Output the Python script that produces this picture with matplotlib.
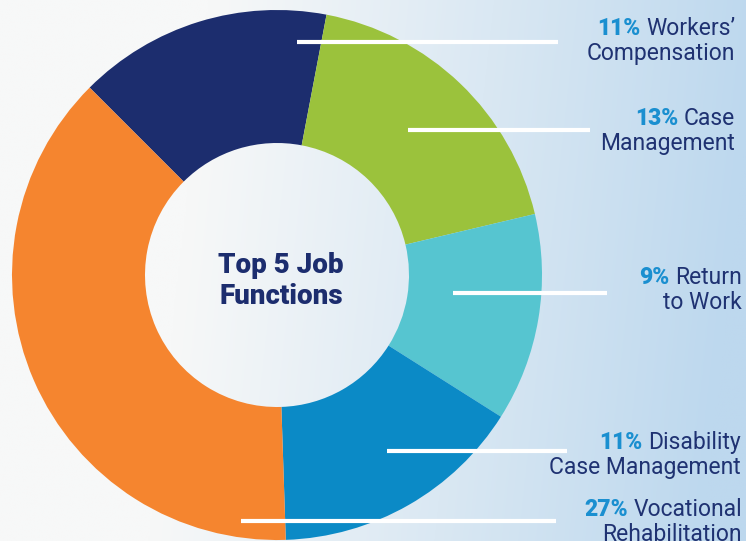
import numpy as np
import matplotlib
matplotlib.use("Agg")
import matplotlib.pyplot as plt
from matplotlib.colors import to_rgb

# ---- data ----
categories = ["Workers\u2019\nCompensation", "Case\nManagement", "Return\nto Work",
              "Disability\nCase Management", "Vocational\nRehabilitation"]
percents = [11, 13, 9, 11, 27]
colors = ["#1c2d6e", "#9bc23c", "#56c5d0", "#0b8ac6", "#f5852f"]

W, H = 746, 541
fig = plt.figure(figsize=(W / 100, H / 100), dpi=100)
ax = fig.add_axes([0, 0, 1, 1])

# background gradient (white-grey left -> light blue right)
c0 = np.array(to_rgb("#f7f8f8"))
c1 = np.array(to_rgb("#bdd8ee"))
xs = np.linspace(0, 1, 400)
ys = np.linspace(0, 1, 300)
X, Y = np.meshgrid(xs, ys)
t = np.clip((X - 0.28 + 0.08 * (1 - Y)) / 0.74, 0, 1) ** 1.05
img = c0[None, None, :] * (1 - t[..., None]) + c1[None, None, :] * t[..., None]
ax.imshow(img, extent=(0, W, 0, H), origin="lower", aspect="auto", zorder=0)

# donut
cx, cy, R, w = 277, H - 275, 265, 133
wedges, _ = ax.pie(percents, colors=colors, startangle=135, counterclock=False,
                   center=(cx, cy), radius=R, frame=True,
                   wedgeprops=dict(width=w, linewidth=0))
for wd in wedges:
    wd.set_zorder(2)
ax.set_xlim(0, W)
ax.set_ylim(0, H)
ax.set_aspect("equal")
ax.axis("off")

# center text
ax.text(cx + 4, cy - 6, "Top 5 Job\nFunctions", ha="center", va="center",
        fontsize=20, fontweight="heavy", color="#1c2d6e", family="Roboto",
        linespacing=1.22, zorder=5)

# leader lines and labels (pixel positions from top)
line_start_x = [297, 408, 453, 387, 241]
line_end_x = [558, 590, 607, 567, 556]
line_y = [42, 130, 293, 451, 521]
label_right = [735, 735, 742, 741, 742]
label_top_base = [35, 125, 284, 449, 516]   # baseline of first line (px from top)

pct_color = "#1a8fd0"
txt_color = "#1f3272"
fs = 16.5
for i, cat in enumerate(categories):
    y = H - line_y[i]
    ax.plot([line_start_x[i], line_end_x[i]], [y, y], color="white", lw=3,
            solid_capstyle="butt", zorder=4)
    first, second = cat.split("\n")
    yb = H - label_top_base[i]
    t1 = ax.text(label_right[i], yb, first, ha="right", va="baseline",
                 fontsize=fs, color=txt_color, family="Roboto", zorder=5)
    ax.annotate(f"{percents[i]}%", xy=(0, yb), xycoords=(t1, "data"),
                xytext=(-4, 0), textcoords="offset points",
                ha="right", va="baseline", fontsize=fs, fontweight="heavy",
                color=pct_color, family="Roboto", zorder=5)
    ax.text(label_right[i], yb - 25, second, ha="right", va="baseline",
            fontsize=fs, color=txt_color, family="Roboto", zorder=5)

fig.savefig("out.png", dpi=100)
